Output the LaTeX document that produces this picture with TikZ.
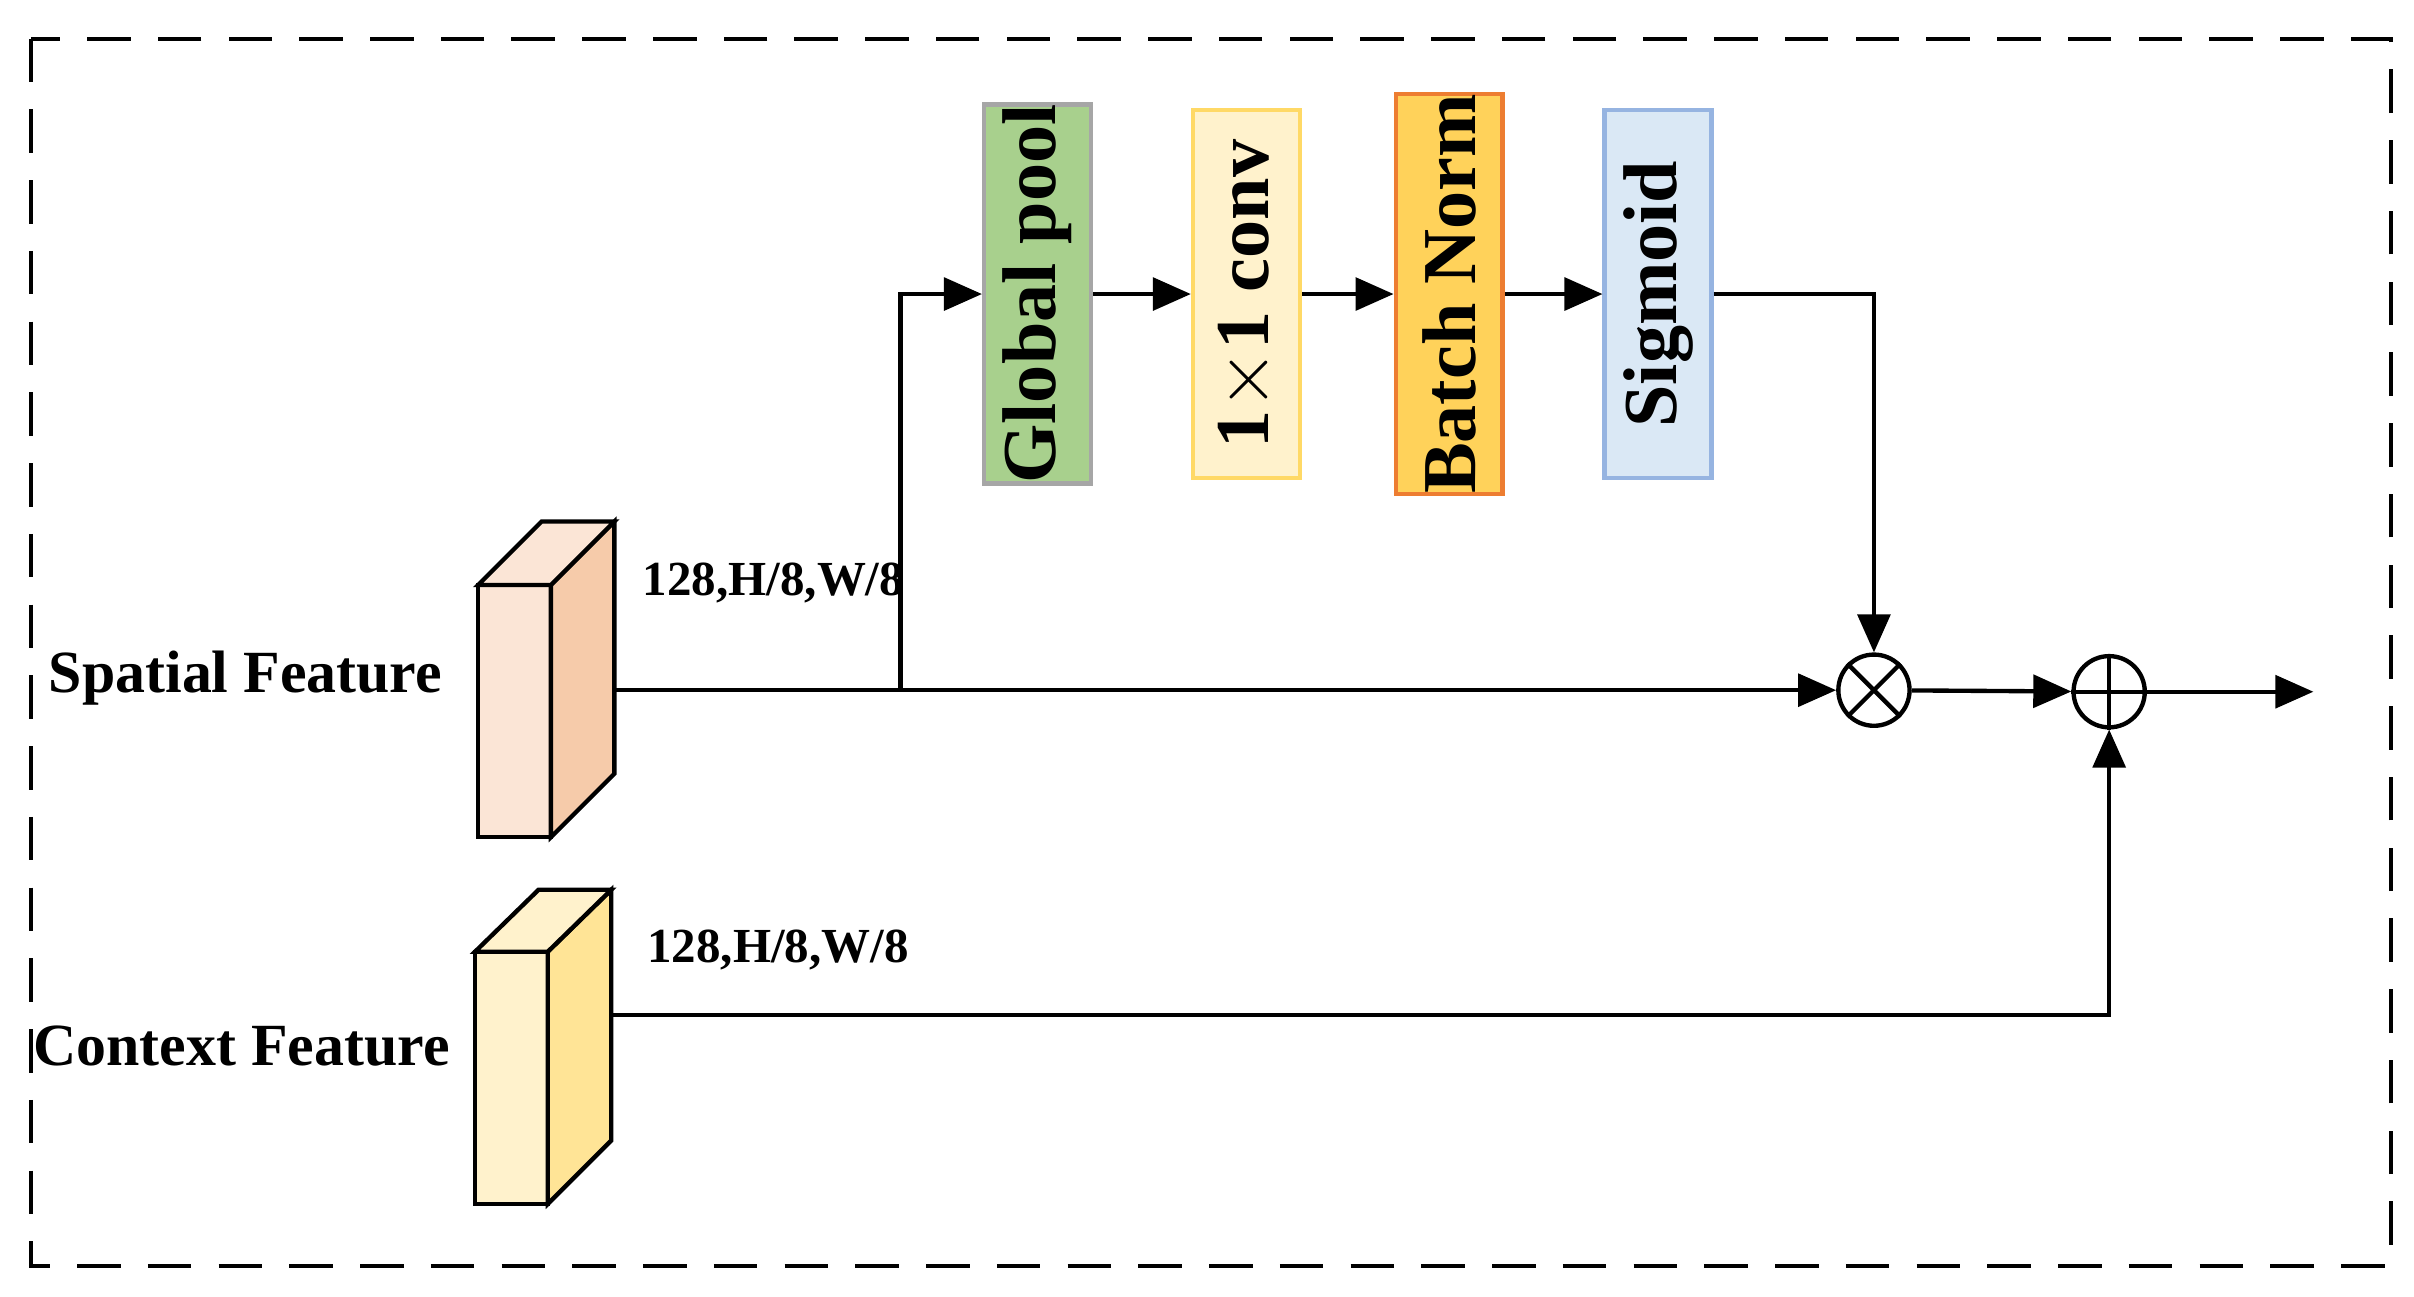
\documentclass[tikz,border=0pt]{standalone}
\usepackage{fontspec}
\setmainfont{Liberation Serif}
\usetikzlibrary{positioning,arrows.meta,shapes.misc}
\definecolor{poolfill}{RGB}{168,208,141}
\definecolor{convfill}{RGB}{255,242,204}
\definecolor{convline}{RGB}{255,217,102}
\definecolor{bnfill}{RGB}{255,210,90}
\definecolor{bnline}{RGB}{237,125,49}
\definecolor{sigfill}{RGB}{218,232,245}
\definecolor{sigline}{RGB}{150,180,225}
\definecolor{spfront}{RGB}{251,229,214}
\definecolor{spside}{RGB}{246,203,170}
\definecolor{cxfront}{RGB}{255,242,204}
\definecolor{cxside}{RGB}{255,228,150}
\begin{document}
\begin{tikzpicture}[x=0.01cm,y=-0.01cm,
       block/.style={rectangle, thick, minimum width=0.69cm, minimum height=2.38cm, inner sep=0pt, font=\fontsize{14}{14}\selectfont\bfseries},
       label/.style={font=\fontsize{11}{11}\selectfont\bfseries},
       dims/.style={font=\fontsize{9}{9}\selectfont\bfseries},
       op/.style={circle, draw, thick, minimum size=0.46cm, inner sep=0pt},
       arrow/.style={-{Triangle[length=7pt,width=6pt]}, thick, black}
   ]
   \useasboundingbox (0,0) rectangle (1560,838);
   \draw[thick, dash pattern=on 8pt off 5pt] (20,25) rectangle (1545,818);

   % attention branch
   \node[block, fill=poolfill, draw=gray!70] (pool) at (670.5,190) {\rotatebox{90}{Global pool}};
   \node[block, fill=convfill, draw=convline] (conv) at (805.5,190) {\rotatebox{90}{1$\times$1 conv}};
   \node[block, fill=bnfill, draw=bnline] (bn) at (936.5,190) {\rotatebox{90}{Batch Norm}};
   \node[block, fill=sigfill, draw=sigline] (sig) at (1071.5,190) {\rotatebox{90}{Sigmoid}};

   % feature cubes
   \filldraw[thick, fill=spfront] (309,378) rectangle (356,541);
   \filldraw[thick, fill=spside] (356,378) -- (397,337) -- (397,500) -- (356,541) -- cycle;
   \filldraw[thick, fill=spfront] (309,378) -- (350,337) -- (397,337) -- (356,378) -- cycle;
   \coordinate (spatial) at (397,446);
   \filldraw[thick, fill=cxfront] (307,615) rectangle (354,778);
   \filldraw[thick, fill=cxside] (354,615) -- (395,575) -- (395,737) -- (354,778) -- cycle;
   \filldraw[thick, fill=cxfront] (307,615) -- (348,575) -- (395,575) -- (354,615) -- cycle;
   \coordinate (context) at (395,656);

   \node[label, anchor=east] (splabel) at (298,438) {Spatial Feature};
   \node[label, anchor=east] (cxlabel) at (303,676) {Context Feature};
   \node[dims, anchor=west] (spdims) at (403,377) {128,H/8,W/8};
   \node[dims, anchor=west] (cxdims) at (406,614) {128,H/8,W/8};

   \node[op] (mul) at (1211,446) {};
   \draw[thick] (mul.north east) -- (mul.south west) (mul.north west) -- (mul.south east);
   \node[op] (add) at (1363,447) {};
   \draw[thick] (add.north) -- (add.south) (add.west) -- (add.east);
   \coordinate (split) at (582,446);
   \coordinate (out) at (1495,447);

   \draw[arrow] (spatial) -- (mul);
   \draw[arrow] (split) |- (pool);
   \draw[arrow] (pool) -- (conv);
   \draw[arrow] (conv) -- (bn);
   \draw[arrow] (bn) -- (sig);
   \draw[arrow] (sig.east) -| (mul.north);
   \draw[arrow] (mul) -- (add);
   \draw[arrow] (add) -- (out);
   \draw[arrow] (context) -| (add.south);
   \end{tikzpicture}
\end{document}
